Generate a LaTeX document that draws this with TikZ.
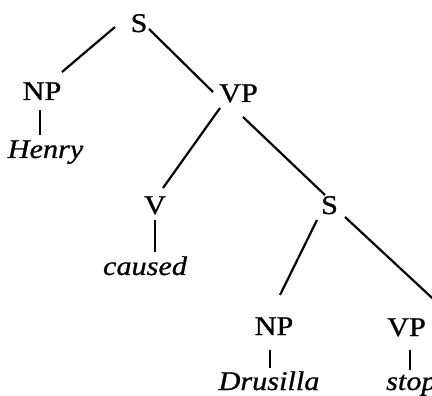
\documentclass[tikz,border=0pt]{standalone}
\usepackage{fontspec}
\setmainfont{Liberation Serif}[FakeStretch=1.12,FakeBold=0.8]
\begin{document}
\begin{tikzpicture}[x=1pt,y=-1pt,
  lbl/.style={inner sep=0pt, anchor=base, font=\fontsize{27}{30}\selectfont},
  wrd/.style={inner sep=0pt, anchor=base, font=\fontsize{27}{30}\selectfont\itshape},
  br/.style={line width=2.2pt}]
\useasboundingbox (0,0) rectangle (432,396);
% categories
\node[lbl] (S)   at (139,32)    {S};
\node[lbl] (NP)  at (42,100)    {NP};
\node[lbl] (VP)  at (238.5,102) {VP};
\node[lbl] (V)   at (155,214)   {V};
\node[lbl] (S2)  at (329.5,214) {S};
\node[lbl] (NP2) at (274,335)   {NP};
\node[lbl,anchor=base west] (VP2) at (387,336) {VP};
% words
\node[wrd] (henry)    at (45.5,158) {Henry};
\node[wrd] (caused)   at (145,275)  {caused};
\node[wrd] (drusilla) at (269,390)  {Drusilla};
\node[wrd,anchor=base west] (stop) at (386,390) {stop};
% branches
\draw[br] ([xshift=-24pt,yshift=5pt]S.base) -- ([xshift=20pt,yshift=28pt]NP.base);
\draw[br] ([xshift=10pt,yshift=3pt]S.base) -- ([xshift=-25.5pt,yshift=10pt]VP.base);
\draw[br] ([xshift=-18.5pt,yshift=-6pt]VP.base) -- ([xshift=8pt,yshift=26pt]V.base);
\draw[br] ([xshift=4.5pt,yshift=-15pt]VP.base) -- ([xshift=-4.5pt,yshift=19pt]S2.base);
\draw[br] ([xshift=-12.5pt,yshift=-6pt]S2.base) -- ([xshift=6pt,yshift=40pt]NP2.base);
\draw[br] ([xshift=15.5pt,yshift=-3pt]S2.base) -- ([xshift=57pt,yshift=27pt]VP2.base west);
\draw[br] ([xshift=-2pt,yshift=-10pt]NP.base) -- ([xshift=-5.5pt,yshift=23pt]henry.base);
\draw[br] ([yshift=-6pt]V.base) -- ([xshift=10pt,yshift=23pt]caused.base);
\draw[br] ([xshift=-4pt,yshift=-15pt]NP2.base) -- ([xshift=1pt,yshift=22pt]drusilla.base);
\draw[br] ([xshift=23pt,yshift=-14pt]VP2.base west) -- ([xshift=24pt,yshift=20pt]stop.base west);
\end{tikzpicture}
\end{document}
